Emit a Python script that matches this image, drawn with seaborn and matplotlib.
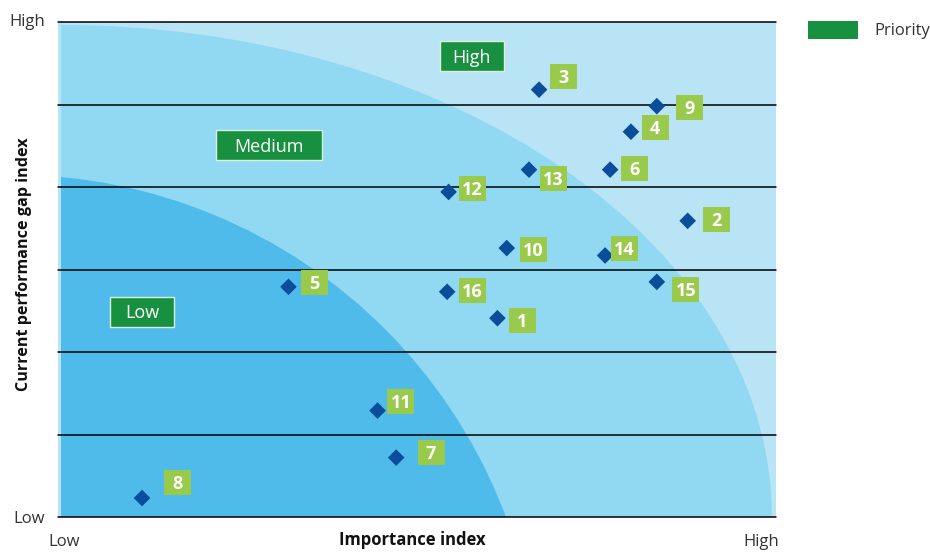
import numpy as np
import pandas as pd
import matplotlib
matplotlib.use("Agg")
import matplotlib.pyplot as plt
import seaborn as sns
from matplotlib.patches import Ellipse, Rectangle, Patch
from matplotlib.path import Path
from matplotlib.transforms import ScaledTranslation

# ---------------- data ----------------
item_ids = ["1", "2", "3", "4", "5", "6", "7", "8", "9", "10", "11", "12", "13", "14", "15", "16"]
importance = [6.12, 8.77, 6.70, 7.98, 3.21, 7.69, 4.71, 1.17, 8.34, 6.25, 4.45, 5.44, 6.56, 7.62, 8.34, 5.42]
gap = [2.41, 3.59, 5.18, 4.67, 2.79, 4.21, 0.72, 0.23, 4.98, 3.26, 1.29, 3.94, 4.21, 3.17, 2.85, 2.73]
zone_names = ["High", "Medium", "Low"]
x_tick_labels = ["Low", "High"]
y_tick_labels = ["Low", "High"]
legend_label = "Priority"
x_title = "Importance index"
y_title = "Current performance gap index"

# ---------------- style ----------------
LIGHT = "#b8e4f6"
MED = "#91d8f3"
LOW = "#4fbbeb"
DIAMOND = "#0a4e9b"
LGREEN = "#9aca4b"
DGREEN = "#17913f"

# label-box offsets from each diamond, in pixels (right, down)
label_offsets = {
    "1": (24.6, 2), "2": (29, -1.5), "3": (24.3, -12.8), "4": (24.3, -4.5),
    "5": (26, -4), "6": (24.3, -1.5), "7": (35, -5.5), "8": (35.6, -15.2),
    "9": (32.8, 1.5), "10": (26.6, 1.5), "11": (23.4, -9.4), "12": (24, -3),
    "13": (24, 8.5), "14": (19.3, -6.5), "15": (29, 8), "16": (25, -1.5),
}
zone_pos = {"High": (5.766, 5.564, 64), "Medium": (2.939, 4.488, 106), "Low": (1.170, 2.469, 64)}

LIFT = 1.5


def fixed_box(w, h, lift=0.0):
    def style(x0, y0, width, height, mutation_size):
        cx = x0 + width / 2
        cy = y0 + height / 2 + lift
        verts = [(cx - w / 2, cy - h / 2), (cx + w / 2, cy - h / 2),
                 (cx + w / 2, cy + h / 2), (cx - w / 2, cy + h / 2),
                 (cx - w / 2, cy - h / 2)]
        return Path(verts, closed=True)
    return style


sns.set_theme(style="white")
plt.rcParams["font.family"] = ["Open Sans", "DejaVu Sans"]

fig = plt.figure(figsize=(9.3, 5.52), dpi=100)
ax = fig.add_axes([58 / 930, 35 / 552, 718 / 930, 495 / 552])
ax.set_xlim(0, 10)
ax.set_ylim(0, 6)
ax.set_facecolor(LIGHT)
for s in ax.spines.values():
    s.set_visible(False)

# zones
clip = Rectangle((0.042, 0), 10, 6, transform=ax.transData)
med = Ellipse((0.042, 0), 2 * 9.90, 2 * 5.964, facecolor=MED, edgecolor="none", zorder=0.5)
ax.add_patch(med)
med.set_clip_path(clip)
low = Ellipse((-0.634, -2.242), 2 * 7.34, 2 * 6.39, facecolor=LOW, edgecolor="none", zorder=0.6)
ax.add_patch(low)
low.set_clip_path(clip)

# horizontal lines
for yv in range(7):
    ax.axhline(yv, color="black", lw=1.1, zorder=1, clip_on=False)

# points
df = pd.DataFrame({"id": item_ids, "importance": importance, "gap": gap})
sns.scatterplot(data=df, x="importance", y="gap", marker="D", s=72, color=DIAMOND,
                edgecolor="none", linewidth=0, ax=ax, zorder=3, legend=False)

for i, xv, yv in zip(item_ids, importance, gap):
    dx, dy = label_offsets[i]
    ax.annotate(i, (xv, yv), xytext=(dx, -dy - LIFT), textcoords="offset pixels",
                ha="center", va="center", color="white", fontweight="bold", fontsize=13,
                bbox=dict(boxstyle=fixed_box(27, 25, LIFT), facecolor=LGREEN, edgecolor="none"),
                zorder=4)

for name in zone_names:
    zx, zy, w = zone_pos[name]
    ax.text(zx, zy, name, ha="center", va="center", color="white", fontsize=13, zorder=4,
            bbox=dict(boxstyle=fixed_box(w, 30, LIFT), facecolor=DGREEN, edgecolor="#dcefdc", linewidth=1))

# ticks
ax.set_xticks([0, 10], x_tick_labels)
ax.set_yticks([0, 6], y_tick_labels)
ax.tick_params(axis="both", length=0, labelsize=12, colors="#333333")
ax.tick_params(axis="x", pad=12.6)
ax.tick_params(axis="y", pad=9.4)
xt = ax.get_xticklabels()
xt[0].set_transform(xt[0].get_transform() + ScaledTranslation(6 / 100, 0, fig.dpi_scale_trans))
xt[1].set_ha("right")
xt[1].set_transform(xt[1].get_transform() + ScaledTranslation(3 / 100, 0, fig.dpi_scale_trans))
yt = ax.get_yticklabels()
yt[1].set_transform(yt[1].get_transform() + ScaledTranslation(0, 2 / 100, fig.dpi_scale_trans))

ax.set_xlabel(x_title, fontweight="bold", fontsize=12, color="#111111")
ax.xaxis.set_label_coords(0.493, -0.0465)
ax.xaxis.label.set_va("center")
ax.set_ylabel(y_title, fontweight="bold", fontsize=11.6, color="#111111")
ax.yaxis.set_label_coords(-0.048, 0.51)
ax.yaxis.label.set_va("center")

ax.legend(handles=[Patch(facecolor=DGREEN, edgecolor="none")], labels=[legend_label],
          loc="upper left", bbox_to_anchor=(808 / 930, 1 - 21 / 552), bbox_transform=fig.transFigure,
          frameon=False, borderpad=0, borderaxespad=0, fontsize=12,
          handlelength=50 / 16.67, handleheight=21 / 16.67, handletextpad=16 / 16.67,
          labelcolor="#333333")

fig.savefig("out.png", dpi=100)
